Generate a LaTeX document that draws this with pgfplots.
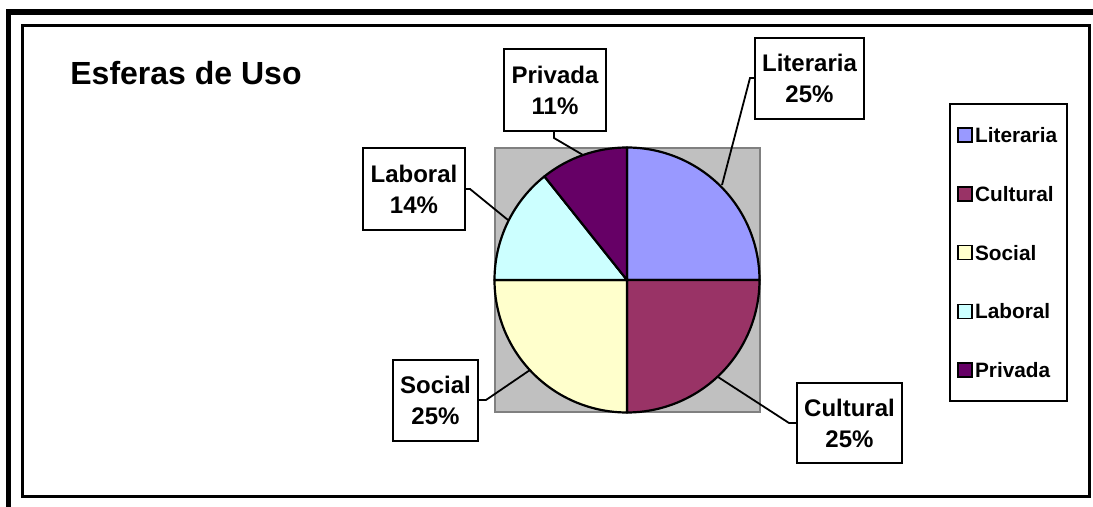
\documentclass[border=0pt]{standalone}
\usepackage{pgfplots}
\pgfplotsset{compat=1.18}
\usepackage{pgfplotstable}
\usepackage{fontspec}
\setmainfont{Liberation Sans}

\definecolor{pie0}{HTML}{9999FF}
\definecolor{pie1}{HTML}{993366}
\definecolor{pie2}{HTML}{FFFFCC}
\definecolor{pie3}{HTML}{CCFFFF}
\definecolor{pie4}{HTML}{660066}
\definecolor{plotgray}{HTML}{C0C0C0}

% porcentaje de cada esfera
\pgfplotstableread{
label value
Literaria 25
Cultural 25
Social 25
Laboral 14.29
Privada 10.71
}\esferas

\begin{document}
\begin{tikzpicture}
% angulos de cada sector, desde arriba en sentido horario
\def\cum{0}
\pgfplotsforeachungrouped \i in {0,...,4}{%
  \pgfplotstablegetelem{\i}{value}\of\esferas
  \pgfmathsetmacro\a{90-3.6*\cum}%
  \pgfmathsetmacro\b{90-3.6*(\cum+\pgfplotsretval)}%
  \expandafter\xdef\csname sa\i\endcsname{\a}%
  \expandafter\xdef\csname sb\i\endcsname{\b}%
  \pgfmathsetmacro\cum{\cum+\pgfplotsretval}%
}
\begin{axis}[
    width=546.5pt, height=253.5pt,
    scale only axis,
    xmin=0, xmax=1093, ymin=0, ymax=507,
    y dir=reverse,
    hide axis,
    clip=false,
    legend image code/.code={\draw[#1,draw=black,line width=0.8pt] (0pt,-3.5pt) rectangle (7pt,3.5pt);},
    legend style={at={(949/1093,1-103/507)}, anchor=north west,
        draw=black, line width=1pt, fill=white,
        font=\bfseries\fontsize{10.4}{12}\selectfont,
        inner xsep=3.5pt, inner ysep=11.6pt, row sep=21.6pt,
        nodes={inner xsep=1.25pt, inner ysep=0pt, text height=7.5pt, text depth=0pt}},
    legend cell align=left,
]
% marcos
\fill[black] (axis cs:6,9) rectangle (axis cs:1093,15);
\fill[black] (axis cs:6,9) rectangle (axis cs:11,507);
\draw[black, line width=1.25pt] (axis cs:22.5,25.5) rectangle (axis cs:1089.5,496.5);

% area del grafico
\draw[fill=plotgray, draw=black!50, line width=1pt] (axis cs:495,148) rectangle (axis cs:760,412);

% sectores
\pgfplotsinvokeforeach{0,...,4}{
  \draw[fill=pie#1, line width=1.1pt, line join=round] (axis cs:627,280) -- ++(\csname sa#1\endcsname:66.25pt)
     arc[start angle=\csname sa#1\endcsname, end angle=\csname sb#1\endcsname, radius=66.25pt] -- cycle;
}

% lineas guia
\tikzset{guia/.style={line width=0.9pt}}
\draw[guia] (axis cs:554,131) -- (axis cs:554,138) -- (axis cs:583,155);
\draw[guia] (axis cs:755,78) -- (axis cs:750,78) -- (axis cs:722,185);
\draw[guia] (axis cs:465,189) -- (axis cs:470,189) -- (axis cs:508,220);
\draw[guia] (axis cs:478,400) -- (axis cs:486,400) -- (axis cs:530,370);
\draw[guia] (axis cs:797,423) -- (axis cs:789,423) -- (axis cs:718,377);

% etiquetas
\tikzset{lbl/.style={draw=black, fill=white, line width=1pt, align=center, inner sep=0pt,
    font=\bfseries\fontsize{12}{15.5}\selectfont}}
\node[lbl, minimum width=51pt, minimum height=41pt] at (axis cs:555,90) {Privada\\11\%};
\node[lbl, minimum width=54.5pt, minimum height=40.5pt] at (axis cs:809.5,78.5) {Literaria\\25\%};
\node[lbl, minimum width=51pt, minimum height=41pt] at (axis cs:414,189) {Laboral\\14\%};
\node[lbl, minimum width=42.5pt, minimum height=40.5pt] at (axis cs:435.5,400.5) {Social\\25\%};
\node[lbl, minimum width=52.5pt, minimum height=40pt] at (axis cs:849.5,423) {Cultural\\25\%};

% titulo
\node[anchor=base west, inner sep=0pt, font=\bfseries\fontsize{16}{19}\selectfont] at (axis cs:70,85) {Esferas de Uso};

% leyenda
\addlegendimage{fill=pie0}\addlegendentry{Literaria}
\addlegendimage{fill=pie1}\addlegendentry{Cultural}
\addlegendimage{fill=pie2}\addlegendentry{Social}
\addlegendimage{fill=pie3}\addlegendentry{Laboral}
\addlegendimage{fill=pie4}\addlegendentry{Privada}
\end{axis}
\pgfresetboundingbox
\path (current axis.south west) rectangle (current axis.north east);
\end{tikzpicture}
\end{document}
